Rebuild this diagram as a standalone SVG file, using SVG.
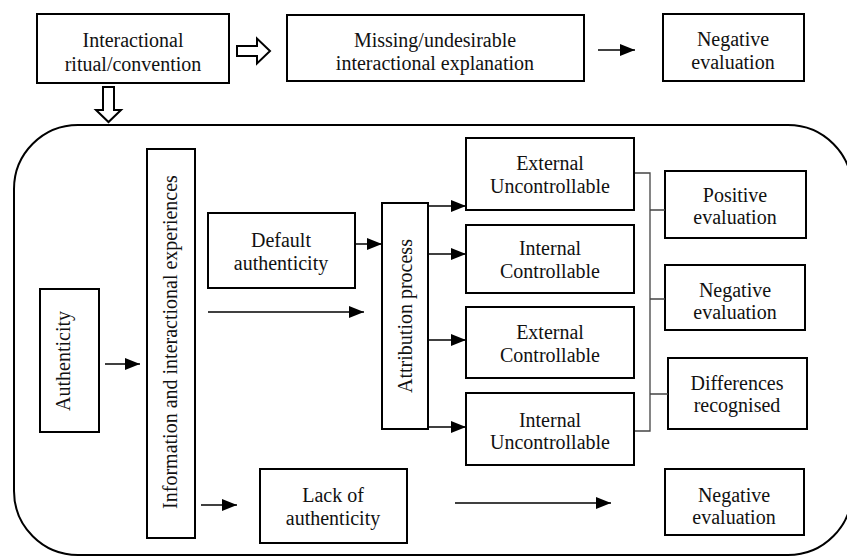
<svg xmlns="http://www.w3.org/2000/svg" width="847" height="557" viewBox="0 0 847 557">
  <style>
    .box { fill: #fff; stroke: #000; stroke-width: 2; }
    .frame { fill: none; stroke: #000; stroke-width: 2; }
    .hollow { fill: #fff; stroke: #000; stroke-width: 2; stroke-linejoin: miter; }
    .conn { fill: none; stroke: #000; stroke-width: 1.5; }
    .bracket { fill: none; stroke: #444; stroke-width: 1.3; }
    .lbl { font-family: 'Liberation Serif', 'Times New Roman', 'DejaVu Serif', serif; font-size: 20px; fill: #111; text-anchor: middle; }
  </style>
  <defs>
    <marker id="tri" markerUnits="userSpaceOnUse" markerWidth="15" markerHeight="12" refX="15" refY="6" orient="auto">
      <path d="M0,0 L15,6 L0,12 z" fill="#000"/>
    </marker>
  </defs>

  <!-- outer rounded frame -->
  <rect class="frame" x="14" y="125" width="838" height="430" rx="64" ry="64"/>

  <!-- top row -->
  <g id="ritual">
    <rect class="box" x="37" y="14" width="192" height="69"/>
    <text class="lbl" x="133" y="47">Interactional</text>
    <text class="lbl" x="133" y="71">ritual/convention</text>
  </g>
  <g id="missing">
    <rect class="box" x="287" y="15" width="297" height="66"/>
    <text class="lbl" x="435" y="47">Missing/undesirable</text>
    <text class="lbl" x="435" y="70">interactional explanation</text>
  </g>
  <g id="neg-top">
    <rect class="box" x="663" y="14" width="141" height="67"/>
    <text class="lbl" x="733" y="46">Negative</text>
    <text class="lbl" x="733" y="69">evaluation</text>
  </g>

  <!-- inner nodes -->
  <g id="authenticity">
    <rect class="box" x="40" y="289" width="59" height="143"/>
    <text class="lbl" transform="translate(70,361) rotate(-90)">Authenticity</text>
  </g>
  <g id="information">
    <rect class="box" x="147" y="149" width="48" height="389"/>
    <text class="lbl" transform="translate(177,342) rotate(-90)">Information and interactional experiences</text>
  </g>
  <g id="default">
    <rect class="box" x="208" y="213" width="147" height="75"/>
    <text class="lbl" x="281" y="247">Default</text>
    <text class="lbl" x="281" y="270">authenticity</text>
  </g>
  <g id="attribution">
    <rect class="box" x="382" y="203" width="46" height="226"/>
    <text class="lbl" transform="translate(412,316) rotate(-90)">Attribution process</text>
  </g>
  <g id="lack">
    <rect class="box" x="260" y="469" width="147" height="74"/>
    <text class="lbl" x="333" y="502">Lack of</text>
    <text class="lbl" x="333" y="525">authenticity</text>
  </g>

  <g id="ext-unc">
    <rect class="box" x="466" y="138" width="168" height="72"/>
    <text class="lbl" x="550" y="170">External</text>
    <text class="lbl" x="550" y="193">Uncontrollable</text>
  </g>
  <g id="int-ctrl">
    <rect class="box" x="466" y="225" width="168" height="68"/>
    <text class="lbl" x="550" y="255">Internal</text>
    <text class="lbl" x="550" y="278">Controllable</text>
  </g>
  <g id="ext-ctrl">
    <rect class="box" x="466" y="307" width="168" height="71"/>
    <text class="lbl" x="550" y="339">External</text>
    <text class="lbl" x="550" y="362">Controllable</text>
  </g>
  <g id="int-unc">
    <rect class="box" x="466" y="393" width="168" height="72"/>
    <text class="lbl" x="550" y="427">Internal</text>
    <text class="lbl" x="550" y="449">Uncontrollable</text>
  </g>

  <g id="positive">
    <rect class="box" x="665" y="171" width="141" height="67"/>
    <text class="lbl" x="735" y="202">Positive</text>
    <text class="lbl" x="735" y="224">evaluation</text>
  </g>
  <g id="neg-mid">
    <rect class="box" x="665" y="265" width="140" height="65"/>
    <text class="lbl" x="735" y="297">Negative</text>
    <text class="lbl" x="735" y="319">evaluation</text>
  </g>
  <g id="differences">
    <rect class="box" x="668" y="358" width="139" height="71"/>
    <text class="lbl" x="737" y="390">Differences</text>
    <text class="lbl" x="737" y="412">recognised</text>
  </g>
  <g id="neg-bottom">
    <rect class="box" x="665" y="469" width="139" height="66"/>
    <text class="lbl" x="734" y="502">Negative</text>
    <text class="lbl" x="734" y="524">evaluation</text>
  </g>

  <!-- connectors -->
  <g id="connectors">
    <polygon class="hollow" points="237,46 257,46 257,38.5 270,51 257,63.5 257,56 237,56"/>
    <polygon class="hollow" points="103,87 114,87 114,110 121,110 108.5,122 96,110 103,110"/>
    <line class="conn" x1="598" y1="50" x2="635" y2="50" marker-end="url(#tri)"/>

    <line class="conn" x1="105" y1="364" x2="140" y2="364" marker-end="url(#tri)"/>
    <line class="conn" x1="355" y1="244" x2="382" y2="244" marker-end="url(#tri)"/>
    <line class="conn" x1="208" y1="312" x2="364" y2="312" marker-end="url(#tri)"/>
    <line class="conn" x1="201" y1="505" x2="237" y2="505" marker-end="url(#tri)"/>
    <line class="conn" x1="455" y1="503" x2="611" y2="503" marker-end="url(#tri)"/>

    <line class="conn" x1="428" y1="206" x2="466" y2="206" marker-end="url(#tri)"/>
    <line class="conn" x1="428" y1="254" x2="466" y2="254" marker-end="url(#tri)"/>
    <line class="conn" x1="428" y1="340" x2="466" y2="340" marker-end="url(#tri)"/>
    <line class="conn" x1="428" y1="427" x2="466" y2="427" marker-end="url(#tri)"/>

    <path class="bracket" d="M635,173 H650 V431 H635"/>
    <path class="bracket" d="M650,210 H665 M650,299 H665 M650,394 H668"/>
  </g>
</svg>
